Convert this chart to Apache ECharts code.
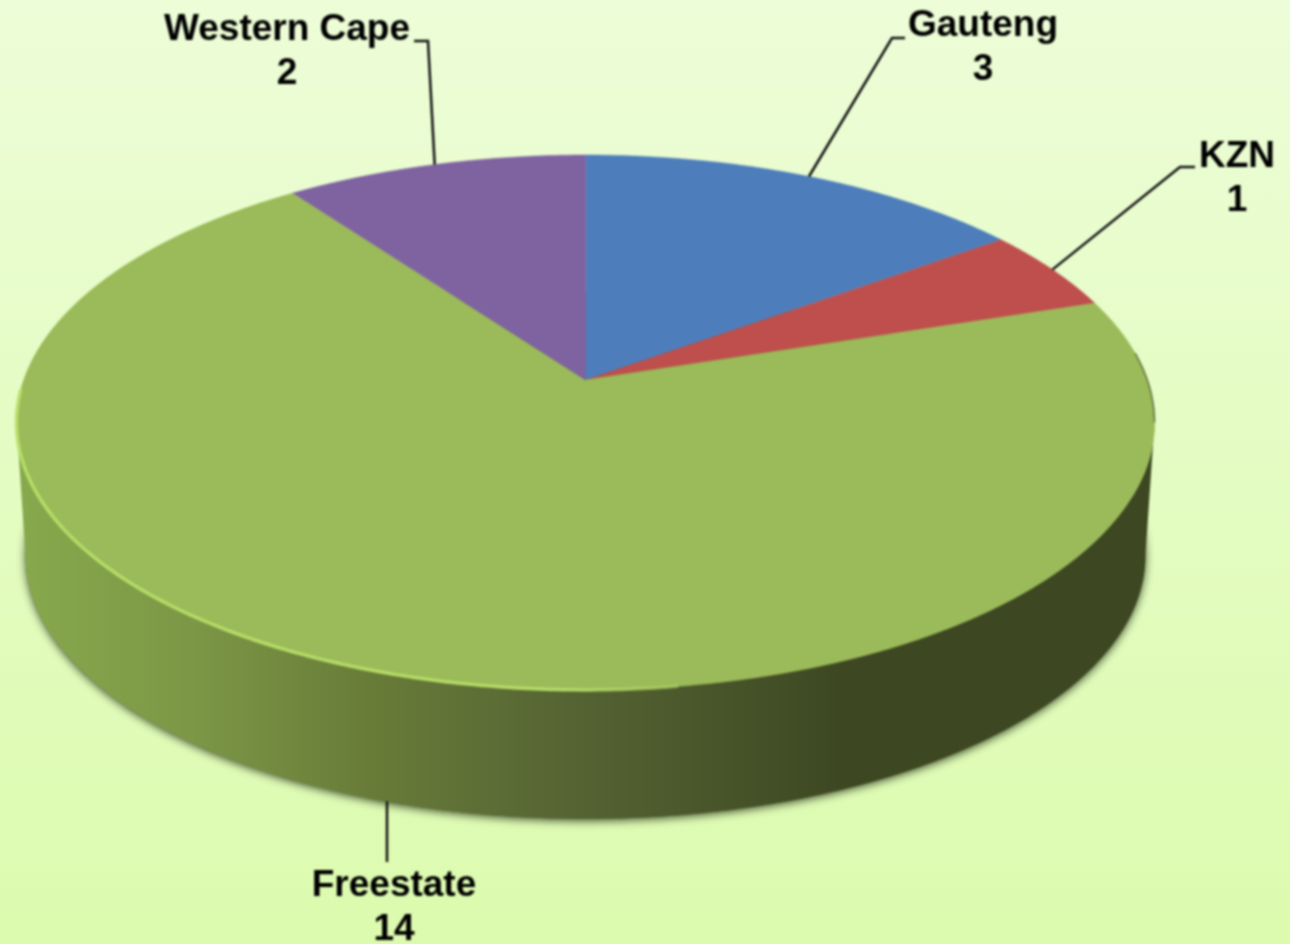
<!DOCTYPE html>
<html>
<head>
<meta charset="utf-8">
<title>Pie</title>
<script src="https://cdn.jsdelivr.net/npm/echarts@6/dist/echarts.min.js"></script>
<style>
    html, body { margin: 0; height: 100%; overflow: hidden; }
    body { background: linear-gradient(180deg, #edfdd8 0%, #e4fcc2 50%, #dcfbae 100%); }
    #chart { width: 1290px; height: 944px; filter: blur(0.8px); }
</style>
</head>
<body>
<div id="chart"></div>
<script>
const categories = ['Gauteng', 'KZN', 'Freestate', 'Western Cape']
const values = [3, 1, 14, 2]

const sliceColors = ['#4d7ebb', '#be4f4c', '#9bba59', '#7f63a1']
// label centre and leader elbow, in pixels
const labelCenters = [[983, 48], [1237, 179], [394, 908], [287, 52]]
const leaderElbows = [[[892, 38], [905, 38]], [[1180, 167], [1195, 167]], [[387, 862]], [[428, 41], [414, 41]]]

// the disc is a circle seen in perspective, the apex sits above the ellipse centre
const apex = [585.5, 380]
const persp = 0.1588
const radiusX = 561.8
const radiusY = 260.7
const depth = 134
const bottomScale = 0.984

const total = values.reduce((a, b) => a + b, 0)
const startAngles = []
values.reduce((sum, v) => { startAngles.push(sum / total * 360); return sum + v }, 0)

function project(deg, bottom) {
    const t = deg * Math.PI / 180
    const den = 1 + persp * Math.cos(t)
    const s = bottom ? bottomScale : 1
    return [
        apex[0] + s * radiusX * Math.sin(t) / den,
        apex[1] - s * radiusY * Math.cos(t) / den + (bottom ? depth : 0)
    ]
}

function arc(from, to, bottom) {
    const pts = []
    const n = Math.max(2, Math.ceil(Math.abs(to - from) * 2))
    for (let i = 0; i <= n; i++) pts.push(project(from + (to - from) * i / n, bottom))
    return pts
}

// silhouette of the disc: where the projected x is extreme
const frontFrom = Math.acos(-persp) * 180 / Math.PI
const frontTo = 360 - frontFrom

const wallGradient = () => new echarts.graphic.LinearGradient(25, 0, 1145, 0, [
    { offset: 0, color: '#87a84c' },
    { offset: 0.15, color: '#7c9746' },
    { offset: 0.3, color: '#697d39' },
    { offset: 0.48, color: '#566534' },
    { offset: 0.73, color: '#3d4822' },
    { offset: 1, color: '#3d4822' }
], true)

const chart = echarts.init(document.getElementById('chart'))
const rows = categories.map((name, i) => [i, values[i], startAngles[i]])

chart.setOption({
    animation: false,
    series: [
        {
            // wall of the cylinder and the soft shadow below it
            type: 'custom',
            coordinateSystem: 'none',
            silent: true,
            z: 1,
            data: rows,
            renderItem(params, api) {
                const start = api.value(2)
                const end = start + api.value(1) / total * 360
                const from = Math.max(start, frontFrom)
                const to = Math.min(end, frontTo)
                if (from >= to) return null
                return {
                    type: 'group',
                    children: [
                        {
                            type: 'polygon',
                            shape: { points: arc(0, 359.5, true) },
                            style: {
                                fill: '#5b6b33',
                                shadowBlur: 9,
                                shadowOffsetY: 2,
                                shadowColor: 'rgba(20, 30, 10, 0.75)'
                            }
                        },
                        {
                            type: 'polygon',
                            shape: { points: arc(from, to, false).concat(arc(to, from, true)) },
                            style: { fill: wallGradient() }
                        }
                    ]
                }
            }
        },
        {
            // top face
            type: 'custom',
            coordinateSystem: 'none',
            silent: true,
            z: 2,
            data: rows,
            renderItem(params, api) {
                const start = api.value(2)
                const end = start + api.value(1) / total * 360
                const color = sliceColors[api.value(0)]
                return {
                    type: 'polygon',
                    shape: { points: [apex].concat(arc(start, end, false)) },
                    style: { fill: color, stroke: color, lineWidth: 0.5 }
                }
            }
        },
        {
            // highlight and dark edge along the rim of the top face
            type: 'custom',
            coordinateSystem: 'none',
            silent: true,
            z: 3,
            data: [[0]],
            renderItem() {
                return {
                    type: 'group',
                    children: [
                        {
                            type: 'polyline',
                            shape: { points: arc(172, 268, false) },
                            style: {
                                fill: null,
                                lineWidth: 3.5,
                                stroke: new echarts.graphic.LinearGradient(15, 0, 800, 0, [
                                    { offset: 0, color: 'rgba(185, 225, 105, 0.9)' },
                                    { offset: 0.7, color: 'rgba(185, 225, 105, 0.9)' },
                                    { offset: 1, color: 'rgba(185, 225, 105, 0)' }
                                ], true)
                            }
                        },
                        {
                            type: 'polyline',
                            shape: { points: arc(84, frontFrom, false) },
                            style: { fill: null, lineWidth: 1.5, stroke: 'rgba(61, 72, 34, 0.7)' }
                        }
                    ]
                }
            }
        },
        {
            // labels and leader lines
            type: 'custom',
            coordinateSystem: 'none',
            silent: true,
            z: 4,
            data: rows,
            renderItem(params, api) {
                const i = api.value(0)
                const mid = api.value(2) + api.value(1) / total * 180
                const onWall = mid > frontFrom && mid < frontTo
                const elbows = leaderElbows[i]
                const anchor = project(mid, onWall)
                // the leader of a front slice drops straight down from the wall
                if (onWall) anchor[0] = elbows[0][0]
                return {
                    type: 'group',
                    children: [
                        {
                            type: 'polyline',
                            shape: { points: [anchor].concat(elbows) },
                            style: { fill: null, stroke: '#111111', lineWidth: 2.5 }
                        },
                        {
                            type: 'text',
                            style: {
                                x: labelCenters[i][0],
                                y: labelCenters[i][1],
                                text: categories[i] + '\n' + api.value(1),
                                align: 'center',
                                verticalAlign: 'middle',
                                lineHeight: 44,
                                fontFamily: 'Liberation Sans',
                                fontWeight: 'bold',
                                fontSize: 37,
                                fill: '#000000'
                            }
                        }
                    ]
                }
            }
        }
    ]
})
</script>
</body>
</html>
